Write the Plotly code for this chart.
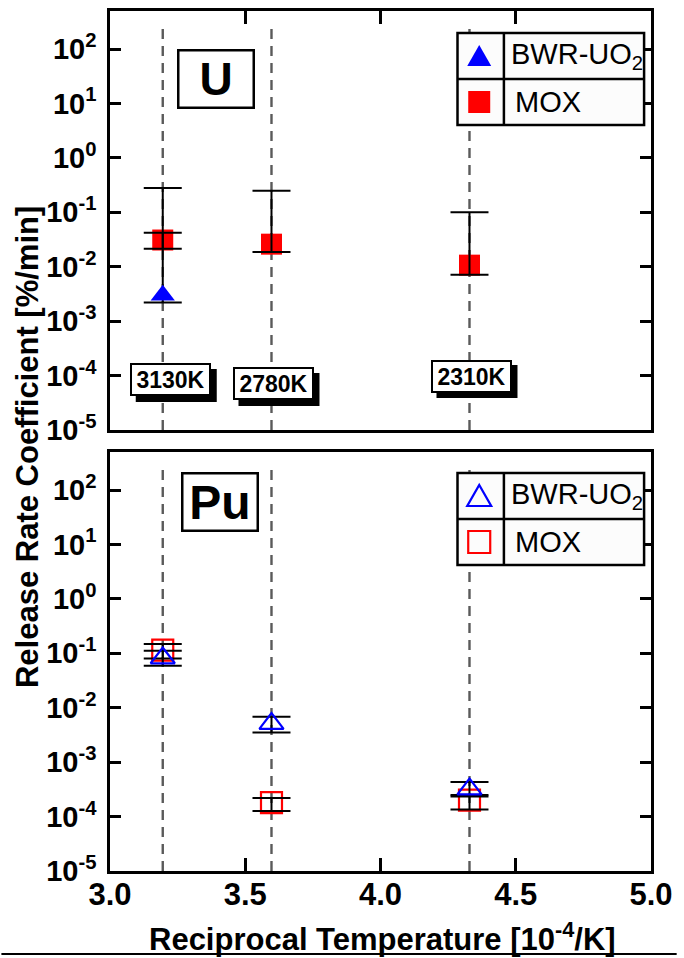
import plotly.graph_objects as go

# ---------------- data ----------------
recip_T = [3.195, 3.597, 4.329]          # 10^4 / T  [10^-4/K]
temp_labels = ["3130K", "2780K", "2310K"]

# U panel
u_bwr_x = [3.195]
u_bwr_y = [0.0030]
u_bwr_hi = [0.28]
u_bwr_lo = [0.0022]

u_mox_x = [3.195, 3.597, 4.329]
u_mox_y = [0.031, 0.026, 0.0107]
u_mox_hi = [0.042, 0.25, 0.10]
u_mox_lo = [0.0214, 0.0186, 0.0071]

# Pu panel
pu_bwr_x = [3.195, 3.597, 4.329]
pu_bwr_y = [0.082, 0.0051, 3.2e-4]
pu_bwr_hi = [0.111, 0.0068, 4.3e-4]
pu_bwr_lo = [0.059, 0.0035, 2.5e-4]

pu_mox_x = [3.195, 3.597, 4.329]
pu_mox_y = [0.115, 1.8e-4, 2.0e-4]
pu_mox_hi = [0.148, 2.2e-4, 2.35e-4]
pu_mox_lo = [0.080, 1.26e-4, 1.35e-4]

x_tick_vals = [3.0, 3.5, 4.0, 4.5, 5.0]
x_tick_text = ["3.0", "3.5", "4.0", "4.5", "5.0"]
y_exponents = [-5, -4, -3, -2, -1, 0, 1, 2]
y_tick_vals = [10.0 ** e for e in y_exponents]
y_tick_text = ["10<sup>%d</sup>" % e for e in y_exponents]
guide_span = [1e-5, 10 ** 2.5]

series_names = ["BWR-UO<sub>2</sub>", "MOX"]

# ---------------- layout helpers (pixel -> paper) ----------------
W, H = 684, 958
L, R, T, B = 110, 26, 11, 87
PW, PH = W - L - R, H - T - B


def px(xp):
    return (xp - L) / PW


def py(yp):
    return (H - B - yp) / PH


BOLDF = "Liberation Sans, Arial, sans-serif"
ARIAL = "Liberation Sans, Arial, sans-serif"

BLUE = "#0000ff"
RED = "#ff0000"

fig = go.Figure()


def err(y, hi, lo):
    return [h - v for h, v in zip(hi, y)], [v - l for v, l in zip(y, lo)]


def add_panel(xa, ya, bwr, mox, filled):
    # vertical dashed guides at the three temperatures
    for xv in recip_T:
        fig.add_trace(go.Scatter(
            x=[xv, xv], y=guide_span, mode="lines", xaxis=xa, yaxis=ya,
            line=dict(color="#5a5a5a", width=2.4, dash="10px,7px"),
            showlegend=False, hoverinfo="skip"))
    bx, by, bhi, blo = bwr
    mx, my, mhi, mlo = mox
    # MOX markers
    fig.add_trace(go.Scatter(
        x=mx, y=my, mode="markers", xaxis=xa, yaxis=ya, name="MOX",
        marker=dict(symbol="square" if filled else "square-open", size=21,
                    color=RED, line=dict(color=RED, width=0 if filled else 2.2)),
        showlegend=False))
    # error bars (drawn over markers)
    for xs, ys, hi, lo in ((mx, my, mhi, mlo), (bx, by, bhi, blo)):
        a, am = err(ys, hi, lo)
        fig.add_trace(go.Scatter(
            x=xs, y=ys, mode="markers", xaxis=xa, yaxis=ya,
            marker=dict(size=1, opacity=0),
            error_y=dict(type="data", symmetric=False, array=a, arrayminus=am,
                         color="black", thickness=2, width=19),
            showlegend=False, hoverinfo="skip"))
    # BWR markers
    fig.add_trace(go.Scatter(
        x=bx, y=by, mode="markers", xaxis=xa, yaxis=ya, name="BWR-UO2",
        marker=dict(symbol="triangle-up" if filled else "triangle-up-open", size=21,
                    color=BLUE, line=dict(color=BLUE, width=0 if filled else 2.2)),
        showlegend=False))


add_panel("x", "y", (u_bwr_x, u_bwr_y, u_bwr_hi, u_bwr_lo),
          (u_mox_x, u_mox_y, u_mox_hi, u_mox_lo), True)
add_panel("x2", "y2", (pu_bwr_x, pu_bwr_y, pu_bwr_hi, pu_bwr_lo),
          (pu_mox_x, pu_mox_y, pu_mox_hi, pu_mox_lo), False)

top_dom = [py(430), 1.0]
bot_dom = [0.0, py(452)]

axis_common = dict(showgrid=False, zeroline=False, linecolor="black", linewidth=2.5,
                   ticks="inside", tickcolor="black", tickwidth=2.5)

yaxis_common = dict(axis_common, type="log", range=[-5, 2.7], tickmode="array",
                    tickvals=y_tick_vals, ticktext=y_tick_text, ticklen=11,
                    mirror="ticks", ticklabelstandoff=5,
                    tickfont=dict(family=BOLDF, size=29, color="black", weight="bold"))

fig.update_layout(
    width=W, height=H, autosize=False,
    margin=dict(l=L, r=R, t=T, b=B),
    paper_bgcolor="white", plot_bgcolor="white",
    showlegend=False,
    xaxis=dict(axis_common, domain=[0, 1], anchor="y", side="top", range=[3.0, 5.0],
               tickmode="array", tickvals=x_tick_vals, ticktext=x_tick_text,
               showticklabels=False, ticklen=13, mirror=True),
    yaxis=dict(yaxis_common, domain=top_dom, anchor="x"),
    xaxis2=dict(axis_common, domain=[0, 1], anchor="y2", side="bottom", range=[3.0, 5.0],
                tickmode="array", tickvals=x_tick_vals, ticktext=x_tick_text,
                ticklen=13, mirror=True, ticklabelstandoff=-6,
                tickfont=dict(family=BOLDF, size=31, color="black", weight="bold")),
    yaxis2=dict(yaxis_common, domain=bot_dom, anchor="x2"),
)

shapes = []
annotations = []

# axis titles
annotations.append(dict(
    xref="paper", yref="paper", x=px(386), y=py(937), xanchor="center", yanchor="middle",
    text="Reciprocal Temperature [10<sup>-4</sup>/K]", showarrow=False,
    font=dict(family=BOLDF, size=31, color="black", weight="bold")))
annotations.append(dict(
    xref="paper", yref="paper", x=px(27), y=py(447), xanchor="center", yanchor="middle",
    text="Release Rate Coefficient [%/min]", textangle=-90, showarrow=False,
    font=dict(family=BOLDF, size=31, color="black", weight="bold")))

# bottom rule under the x title
shapes.append(dict(type="line", xref="paper", yref="paper", x0=px(0), x1=px(684),
                   y0=py(954), y1=py(954), line=dict(color="black", width=2)))

# panel labels U / Pu
for txt, cx, cy, fs in (("U", 217.5, 78.5, 46), ("Pu", 221.5, 502, 48)):
    annotations.append(dict(
        xref="paper", yref="paper", x=px(cx), y=py(cy), xanchor="center", yanchor="middle",
        text=txt, showarrow=False, width=73, height=55, borderpad=0,
        bordercolor="black", borderwidth=2.5, bgcolor="white",
        font=dict(family=BOLDF, size=fs, color="black", weight="bold")))

# temperature label boxes with drop shadow
label_y = [380, 384, 376]
label_dx = [8, 2, 2]
for xv, lab, yy, dx in zip(recip_T, temp_labels, label_y, label_dx):
    # shadow rectangle
    shapes.append(dict(type="rect", xref="x", yref="paper", xsizemode="pixel",
                       ysizemode="pixel", xanchor=xv, yanchor=py(yy),
                       x0=dx - 35, x1=dx + 46, y0=-22, y1=11,
                       fillcolor="black", line=dict(width=0), layer="above"))
    annotations.append(dict(
        xref="x", yref="paper", x=xv, y=py(yy), xanchor="center", yanchor="middle",
        xshift=dx, text=lab, showarrow=False, width=77, height=29, borderpad=0,
        borderwidth=2, bgcolor="white", bordercolor="black",
        font=dict(family=ARIAL, size=23, weight="bold", color="black")))

# custom legend tables
for top, filled in ((33, True), (473, False)):
    bottom = top + 92
    mid = top + 46
    shapes.append(dict(type="rect", xref="paper", yref="paper", x0=px(462), x1=px(651),
                       y0=py(bottom), y1=py(top), fillcolor="#fcfcfc",
                       line=dict(color="black", width=2.5), layer="above"))
    shapes.append(dict(type="line", xref="paper", yref="paper", x0=px(509), x1=px(509),
                       y0=py(bottom), y1=py(top), line=dict(color="black", width=2.5), layer="above"))
    shapes.append(dict(type="line", xref="paper", yref="paper", x0=px(462), x1=px(651),
                       y0=py(mid), y1=py(mid), line=dict(color="black", width=2.5), layer="above"))
    r1 = top + 23
    r2 = top + 69
    # triangle glyph
    shapes.append(dict(type="path", xref="paper", yref="paper", xsizemode="pixel",
                       ysizemode="pixel", xanchor=px(484), yanchor=py(r1),
                       path="M -12,-10 L 12,-10 L 0,11 Z",
                       fillcolor=BLUE if filled else "rgba(0,0,0,0)",
                       line=dict(color=BLUE, width=0 if filled else 2.2), layer="above"))
    # square glyph
    shapes.append(dict(type="rect", xref="paper", yref="paper", xsizemode="pixel",
                       ysizemode="pixel", xanchor=px(484), yanchor=py(r2),
                       x0=-11, x1=11, y0=-11, y1=11,
                       fillcolor=RED if filled else "rgba(0,0,0,0)",
                       line=dict(color=RED, width=0 if filled else 2.2), layer="above"))
    annotations.append(dict(xref="paper", yref="paper", x=px(514), y=py(r1),
                            xanchor="left", yanchor="middle", text=series_names[0],
                            showarrow=False, font=dict(family=ARIAL, size=29, color="black")))
    annotations.append(dict(xref="paper", yref="paper", x=px(518), y=py(r2),
                            xanchor="left", yanchor="middle", text=series_names[1],
                            showarrow=False, font=dict(family=ARIAL, size=29, color="black")))

fig.update_layout(shapes=shapes, annotations=annotations)
fig.write_html("out.html")
